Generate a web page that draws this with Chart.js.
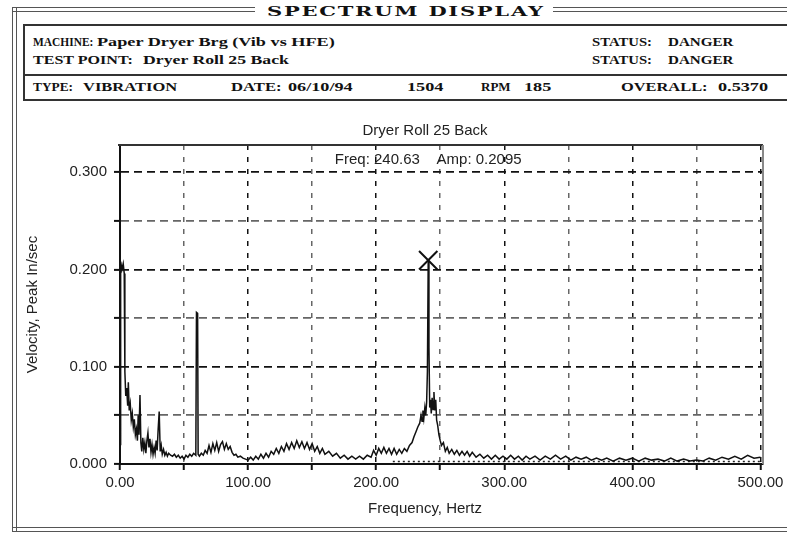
<!DOCTYPE html>
<html>
<head>
<meta charset="utf-8">
<title>Spectrum Display</title>
<script src="https://cdn.jsdelivr.net/npm/chart.js@4.4.0/dist/chart.umd.min.js"></script>
<style>
  html, body { margin: 0; padding: 0; background: #fff; overflow: hidden; }
  #page { position: relative; width: 787px; height: 534px; overflow: hidden; }
  .ln { position: absolute; box-sizing: border-box; }
  .dh { height: 5px; border-top: 1px solid #555; border-bottom: 1px solid #555; }
  .dv { width: 5px; border-left: 1px solid #555; border-right: 1px solid #555; }
  .t { position: absolute; white-space: pre; line-height: 1; transform-origin: left center;
       transform: translateY(-50%); font: bold 13px "Liberation Serif", serif; color: #111; }
  #banner { position: absolute; left: 267px; top: 5px; white-space: pre; line-height: 1;
            font: 900 12px "DejaVu Serif", serif; letter-spacing: 1px; color: #111;
            transform-origin: left top; transform: scaleX(1.75); }
  #info { position: absolute; left: 23px; top: 24px; width: 800px; height: 77px;
          border: 2px solid #333; box-sizing: border-box; }
  #infoRule { position: absolute; left: 23px; top: 74px; width: 800px; height: 2px; background: #333; }
  #spectrum { position: absolute; left: 0; top: 110px; }
</style>
</head>
<body>
<div id="page">
  <!-- window frame -->
  <div class="ln dh" style="left:12px; top:7px; width:243px;"></div>
  <div class="ln dh" style="left:553px; top:7px; width:240px;"></div>
  <div class="ln dv" style="left:12px; top:7px; height:525px;"></div>
  <div class="ln dh" style="left:12px; top:527px; width:790px;"></div>
  <div id="banner">SPECTRUM DISPLAY</div>

  <!-- measurement header, data-w is the field width on the form -->
  <div id="info"></div>
  <div id="infoRule"></div>
  <div class="t" data-w="58" style="left:33px; top:42px;">MACHINE:</div>
  <div class="t" data-w="250" style="left:97px; top:42px;">Paper Dryer Brg (Vib vs HFE)</div>
  <div class="t" data-w="60" style="left:592px; top:42px;">STATUS:</div>
  <div class="t" data-w="65" style="left:668px; top:42px;">DANGER</div>
  <div class="t" data-w="100" style="left:33px; top:60px;">TEST POINT:</div>
  <div class="t" data-w="146" style="left:143px; top:60px;">Dryer Roll 25 Back</div>
  <div class="t" data-w="60" style="left:592px; top:60px;">STATUS:</div>
  <div class="t" data-w="65" style="left:668px; top:60px;">DANGER</div>
  <div class="t" data-w="40" style="left:33px; top:87px;">TYPE:</div>
  <div class="t" data-w="94" style="left:83px; top:87px;">VIBRATION</div>
  <div class="t" data-w="50" style="left:231px; top:87px;">DATE:</div>
  <div class="t" data-w="80" style="left:288px; top:87px;">06/10/94</div>
  <div class="t" data-w="38" style="left:407px; top:87px;">1504</div>
  <div class="t" data-w="30" style="left:481px; top:87px;">RPM</div>
  <div class="t" data-w="36" style="left:524px; top:87px;">185</div>
  <div class="t" data-w="87" style="left:621px; top:87px;">OVERALL:</div>
  <div class="t" data-w="52" style="left:718px; top:87px;">0.5370</div>

  <canvas id="spectrum" width="850" height="416"></canvas>
</div>

<script>
// spectrum trace, frequency in Hz and velocity in in/sec peak
const freqHz = [
  0.0, 0.5, 1.5, 2.5, 3.3, 3.8, 4.5, 5.2, 6.0, 6.5,
  7.2, 8.0, 8.8, 9.6, 10.4, 11.2, 12.0, 12.8, 13.6, 14.2,
  14.8, 15.6, 16.3, 17.0, 17.8, 18.6, 19.4, 20.2, 21.0, 21.8,
  22.6, 23.4, 24.2, 25.0, 25.8, 26.6, 27.4, 28.2, 29.0, 29.8,
  30.6, 31.4, 32.2, 33.0, 34.0, 35.0, 36.0, 37.0, 38.0, 39.5,
  41.0, 42.5, 44.0, 45.5, 47.0, 48.5, 50.0, 51.5, 53.0, 54.5,
  56.0, 57.5, 59.2, 59.7, 60.6, 61.0, 62.0, 63.5, 65.0, 66.5,
  68.0, 69.5, 71.0, 72.5, 74.0, 75.5, 77.0, 78.5, 80.0, 81.5,
  83.0, 84.5, 86.0, 87.5, 89.0, 90.5, 92.0, 94.0, 96.0, 98.0,
  100.0, 102.0, 104.0, 106.0, 108.0, 110.0, 112.0, 114.0, 116.0, 118.0,
  120.0, 122.0, 124.0, 126.0, 128.0, 130.0, 132.0, 134.0, 136.0, 138.0,
  140.0, 142.0, 144.0, 146.0, 148.0, 150.0, 152.0, 154.0, 156.0, 158.0,
  160.0, 163.0, 166.0, 169.0, 172.0, 175.0, 178.0, 181.0, 184.0, 187.0,
  190.0, 193.0, 196.0, 198.0, 200.0, 202.0, 204.0, 206.0, 208.0, 210.0,
  212.0, 214.0, 216.0, 218.0, 220.0, 222.0, 224.0, 226.0, 228.0, 229.5,
  231.0, 232.5, 234.0, 235.0, 235.8, 236.5, 237.2, 238.0, 238.7, 239.4,
  240.0, 240.63, 241.2, 241.8, 242.4, 243.0, 243.7, 244.4, 245.1, 245.8,
  246.5, 247.2, 248.0, 249.0, 250.0, 251.0, 252.5, 254.0, 255.5, 257.0,
  259.0, 261.0, 263.0, 265.0, 267.0, 269.0, 271.0, 273.0, 275.0, 278.0,
  281.0, 284.0, 287.0, 290.0, 293.0, 296.0, 299.0, 302.0, 305.0, 308.0,
  311.0, 314.0, 317.0, 320.0, 324.0, 328.0, 332.0, 336.0, 340.0, 344.0,
  348.0, 352.0, 356.0, 360.0, 364.0, 368.0, 372.0, 376.0, 380.0, 385.0,
  390.0, 395.0, 400.0, 405.0, 410.0, 415.0, 420.0, 425.0, 430.0, 435.0,
  440.0, 445.0, 450.0, 455.0, 460.0, 465.0, 470.0, 475.0, 480.0, 485.0,
  490.0, 495.0, 500.0
];
const velocity = [
  0.020, 0.208, 0.200, 0.206, 0.196, 0.095, 0.070, 0.078, 0.060, 0.084,
  0.055, 0.062, 0.045, 0.052, 0.038, 0.046, 0.030, 0.036, 0.024, 0.050,
  0.030, 0.071, 0.022, 0.013, 0.027, 0.015, 0.022, 0.011, 0.024, 0.032,
  0.017, 0.026, 0.012, 0.020, 0.010, 0.017, 0.011, 0.024, 0.014, 0.036,
  0.054, 0.013, 0.019, 0.010, 0.015, 0.009, 0.012, 0.008, 0.011, 0.009,
  0.008, 0.010, 0.007, 0.009, 0.006, 0.008, 0.005, 0.009, 0.007, 0.010,
  0.008, 0.011, 0.009, 0.156, 0.155, 0.010, 0.008, 0.011, 0.009, 0.014,
  0.011, 0.019, 0.012, 0.021, 0.014, 0.022, 0.013, 0.020, 0.023, 0.015,
  0.021, 0.015, 0.018, 0.012, 0.009, 0.010, 0.007, 0.008, 0.006, 0.005,
  0.004, 0.007, 0.004, 0.008, 0.005, 0.010, 0.006, 0.011, 0.007, 0.013,
  0.010, 0.016, 0.011, 0.018, 0.013, 0.021, 0.015, 0.022, 0.016, 0.024,
  0.017, 0.023, 0.016, 0.022, 0.015, 0.021, 0.013, 0.018, 0.011, 0.016,
  0.010, 0.013, 0.008, 0.011, 0.006, 0.009, 0.005, 0.008, 0.005, 0.008,
  0.005, 0.009, 0.007, 0.014, 0.009, 0.016, 0.011, 0.017, 0.011, 0.016,
  0.010, 0.016, 0.010, 0.015, 0.011, 0.016, 0.013, 0.019, 0.022, 0.028,
  0.033, 0.038, 0.042, 0.050, 0.044, 0.055, 0.047, 0.058, 0.050, 0.064,
  0.095, 0.2095, 0.120, 0.058, 0.066, 0.052, 0.068, 0.056, 0.074, 0.055,
  0.066, 0.045, 0.040, 0.030, 0.024, 0.019, 0.022, 0.013, 0.017, 0.011,
  0.015, 0.010, 0.014, 0.009, 0.013, 0.009, 0.013, 0.008, 0.012, 0.007,
  0.010, 0.006, 0.009, 0.005, 0.009, 0.005, 0.008, 0.005, 0.009, 0.005,
  0.008, 0.004, 0.008, 0.005, 0.008, 0.004, 0.008, 0.005, 0.009, 0.005,
  0.008, 0.004, 0.007, 0.005, 0.007, 0.004, 0.006, 0.004, 0.006, 0.003,
  0.006, 0.004, 0.006, 0.003, 0.006, 0.004, 0.005, 0.003, 0.006, 0.003,
  0.005, 0.003, 0.004, 0.003, 0.006, 0.004, 0.007, 0.005, 0.008, 0.005,
  0.009, 0.006, 0.007
];

// dotted reference level along the floor
const baseFreq = [213, 500];
const baseAmp = [0.0025, 0.0025];

// cursor on the running-speed peak
const cursorFreq = [240.63];
const cursorAmp = [0.2095];

const xLabels = [0, 100, 200, 300, 400, 500];
const yLabels = [0, 0.1, 0.2, 0.3];
const xStep = 50, xMax = 502;
const yStep = 0.05, yMax = 0.328;

const sans = 'Liberation Sans';
const ink = '#222';

const isMult = (v, step) => Math.abs(v / step - Math.round(v / step)) < 1e-6;

// grid at fixed steps from zero, the frame top/right are not grid lines
const stepTicks = (step, max) => {
  const out = [];
  for (let i = 0; i * step <= max + 1e-9; i++) out.push({ value: +(i * step).toFixed(6) });
  return out;
};

// fit the header fields to their widths on the form, without distorting too much
document.querySelectorAll('.t[data-w]').forEach(el => {
  let k = +el.dataset.w / el.offsetWidth;
  k = Math.min(1.4, Math.max(0.88, k));
  el.style.transform = 'translateY(-50%) scaleX(' + k.toFixed(3) + ')';
});

const framePlugin = {
  id: 'frame',
  afterDraw(chart) {
    const { ctx, chartArea: a, scales } = chart;
    ctx.save();
    ctx.lineWidth = 2;
    ctx.strokeStyle = '#333';
    ctx.beginPath();
    ctx.moveTo(a.left - 2, a.top);
    ctx.lineTo(a.right, a.top);
    ctx.stroke();
    ctx.strokeStyle = '#888';
    ctx.beginPath();
    ctx.moveTo(a.right, a.top);
    ctx.lineTo(a.right, a.bottom);
    ctx.stroke();

    // readout for the cursor
    ctx.fillStyle = ink;
    ctx.font = '15px "' + sans + '"';
    ctx.textAlign = 'center';
    ctx.textBaseline = 'middle';
    const txt = 'Freq: ' + cursorFreq[0].toFixed(2) + '    Amp: ' + cursorAmp[0].toFixed(4);
    ctx.fillText(txt, scales.x.getPixelForValue(cursorFreq[0]), a.top + 15);
    ctx.restore();
  }
};

new Chart(document.getElementById('spectrum'), {
  type: 'line',
  data: {
    datasets: [
      {
        label: 'Spectrum',
        data: freqHz.map((f, i) => ({ x: f, y: velocity[i] })),
        borderColor: '#111',
        borderWidth: 1.5,
        pointRadius: 0,
        tension: 0
      },
      {
        label: 'Reference',
        data: baseFreq.map((f, i) => ({ x: f, y: baseAmp[i] })),
        borderColor: '#222',
        borderWidth: 1.5,
        borderDash: [2, 3],
        pointRadius: 0
      },
      {
        label: 'Cursor',
        data: cursorFreq.map((f, i) => ({ x: f, y: cursorAmp[i] })),
        showLine: false,
        pointStyle: 'crossRot',
        pointRadius: 13,
        borderColor: '#111',
        borderWidth: 2
      }
    ]
  },
  options: {
    responsive: false,
    animation: false,
    events: [],
    plugins: {
      legend: { display: false },
      tooltip: { enabled: false },
      title: {
        display: true,
        text: 'Dryer Roll 25 Back',
        color: ink,
        font: { family: sans, size: 15, weight: 'normal' },
        padding: { top: 12, bottom: 5 }
      },
      subtitle: {
        display: true,
        position: 'bottom',
        text: 'Frequency, Hertz',
        color: ink,
        font: { family: sans, size: 15 },
        padding: { top: 1, bottom: 8 }
      }
    },
    scales: {
      x: {
        type: 'linear',
        min: 0,
        max: xMax,
        afterBuildTicks: s => { s.ticks = stepTicks(xStep, xMax); },
        afterFit: s => { s.height = 35; },
        ticks: {
          autoSkip: false,
          maxRotation: 0,
          padding: 4,
          color: ink,
          font: { family: sans, size: 15 },
          callback: v => xLabels.includes(v) ? v.toFixed(2) : ''
        },
        grid: {
          color: c => c.tick && isMult(c.tick.value, 100) ? '#111' : '#666',
          lineWidth: 1.5,
          tickLength: 6,
          tickColor: '#111',
          tickWidth: 2
        },
        border: { color: '#111', width: 2, dash: [5, 7] }
      },
      y: {
        min: 0,
        max: yMax,
        afterBuildTicks: s => { s.ticks = stepTicks(yStep, yMax); },
        afterFit: s => { s.width = 120; },
        ticks: {
          padding: 7,
          color: ink,
          font: { family: sans, size: 15 },
          callback: v => yLabels.some(l => Math.abs(l - v) < 1e-6) ? v.toFixed(3) : ''
        },
        grid: {
          color: c => c.tick && isMult(c.tick.value, 0.1) ? '#111' : '#666',
          lineWidth: 1.8,
          tickLength: 6,
          tickColor: '#111',
          tickWidth: 2
        },
        border: { color: '#111', width: 2, dash: [8, 5] },
        title: {
          display: true,
          text: 'Velocity, Peak In/sec',
          color: ink,
          font: { family: sans, size: 15 },
          padding: { top: 24, bottom: 0 }
        }
      },
      side: {
        position: 'right',
        display: true,
        min: 0,
        max: 1,
        ticks: { display: false },
        grid: { display: false },
        border: { display: false },
        afterFit: s => { s.width = 87; }
      }
    }
  },
  plugins: [framePlugin]
});
</script>
</body>
</html>
